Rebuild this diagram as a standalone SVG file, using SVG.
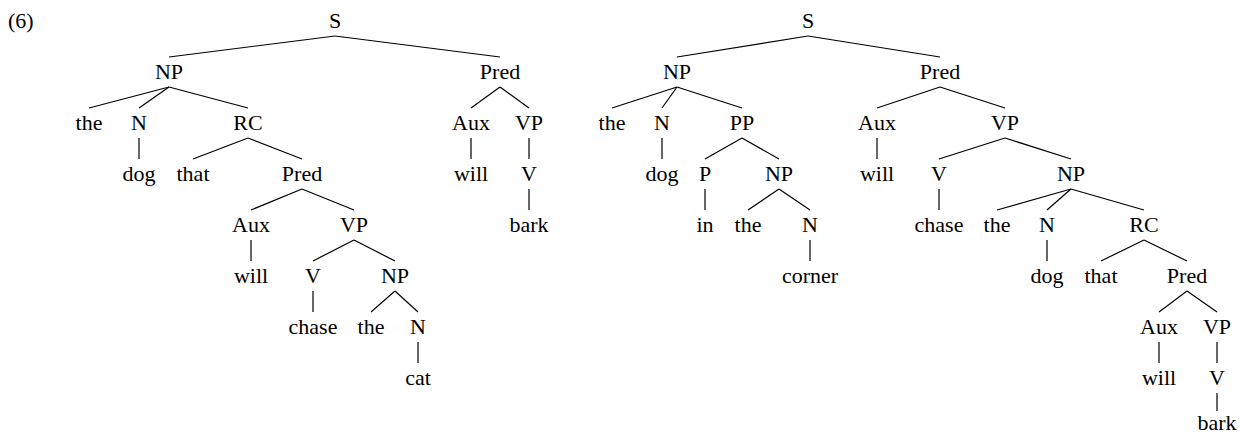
<svg xmlns="http://www.w3.org/2000/svg" width="1240" height="436" viewBox="0 0 1240 436">
<style>
text{font-family:"Liberation Serif","Times New Roman","DejaVu Serif",serif;font-size:22px;fill:#000;text-anchor:middle}
.lbl{text-anchor:start}
#edges line{stroke:#000;stroke-width:1.2}
</style>
<rect width="1240" height="436" fill="#fff"/>
<text class="lbl" x="8" y="28">(6)</text>
<g id="edges">
<line x1="335" y1="36" x2="169" y2="57"/><line x1="335" y1="36" x2="500" y2="57"/>
<line x1="169" y1="87" x2="89" y2="108"/><line x1="169" y1="87" x2="139" y2="108"/><line x1="169" y1="87" x2="248" y2="108"/>
<line x1="139" y1="138" x2="139" y2="159"/>
<line x1="248" y1="138" x2="193" y2="159"/><line x1="248" y1="138" x2="302" y2="159"/>
<line x1="302" y1="189" x2="251" y2="210"/><line x1="302" y1="189" x2="354" y2="210"/>
<line x1="251" y1="240" x2="251" y2="261"/>
<line x1="354" y1="240" x2="313" y2="261"/><line x1="354" y1="240" x2="395" y2="261"/>
<line x1="313" y1="291" x2="313" y2="312"/>
<line x1="395" y1="291" x2="371" y2="312"/><line x1="395" y1="291" x2="418" y2="312"/>
<line x1="418" y1="342" x2="418" y2="363"/>
<line x1="500" y1="87" x2="471" y2="108"/><line x1="500" y1="87" x2="529" y2="108"/>
<line x1="471" y1="138" x2="471" y2="159"/><line x1="529" y1="138" x2="529" y2="159"/>
<line x1="529" y1="189" x2="529" y2="210"/>
<line x1="808" y1="36" x2="677" y2="57"/><line x1="808" y1="36" x2="940" y2="57"/>
<line x1="677" y1="87" x2="612" y2="108"/><line x1="677" y1="87" x2="662" y2="108"/><line x1="677" y1="87" x2="742" y2="108"/>
<line x1="662" y1="138" x2="662" y2="159"/>
<line x1="742" y1="138" x2="705" y2="159"/><line x1="742" y1="138" x2="779" y2="159"/>
<line x1="705" y1="189" x2="705" y2="210"/>
<line x1="779" y1="189" x2="748" y2="210"/><line x1="779" y1="189" x2="810" y2="210"/>
<line x1="810" y1="240" x2="810" y2="261"/>
<line x1="940" y1="87" x2="877" y2="108"/><line x1="940" y1="87" x2="1005" y2="108"/>
<line x1="877" y1="138" x2="877" y2="159"/>
<line x1="1005" y1="138" x2="939" y2="159"/><line x1="1005" y1="138" x2="1071" y2="159"/>
<line x1="939" y1="189" x2="939" y2="210"/>
<line x1="1071" y1="189" x2="997" y2="210"/><line x1="1071" y1="189" x2="1047" y2="210"/><line x1="1071" y1="189" x2="1144" y2="210"/>
<line x1="1047" y1="240" x2="1047" y2="261"/>
<line x1="1144" y1="240" x2="1101" y2="261"/><line x1="1144" y1="240" x2="1187" y2="261"/>
<line x1="1187" y1="291" x2="1159" y2="312"/><line x1="1187" y1="291" x2="1217" y2="312"/>
<line x1="1159" y1="342" x2="1159" y2="363"/><line x1="1217" y1="342" x2="1217" y2="363"/>
<line x1="1217" y1="393" x2="1217" y2="411"/>
</g>
<g id="t1-S"><text x="335" y="28">S</text></g>
<g id="t1-NP"><text x="169" y="79">NP</text></g>
<g id="t1-Pred"><text x="500" y="79">Pred</text></g>
<g id="t1-the"><text x="89" y="130">the</text></g>
<g id="t1-N"><text x="139" y="130">N</text></g>
<g id="t1-RC"><text x="248" y="130">RC</text></g>
<g id="t1-dog"><text x="139" y="181">dog</text></g>
<g id="t1-that"><text x="193" y="181">that</text></g>
<g id="t1-Pred2"><text x="302" y="181">Pred</text></g>
<g id="t1-Aux2"><text x="251" y="232">Aux</text></g>
<g id="t1-VP2"><text x="354" y="232">VP</text></g>
<g id="t1-will2"><text x="251" y="283">will</text></g>
<g id="t1-V2"><text x="313" y="283">V</text></g>
<g id="t1-NP2"><text x="395" y="283">NP</text></g>
<g id="t1-chase"><text x="313" y="334">chase</text></g>
<g id="t1-the2"><text x="371" y="334">the</text></g>
<g id="t1-N2"><text x="418" y="334">N</text></g>
<g id="t1-cat"><text x="418" y="385">cat</text></g>
<g id="t1-Aux"><text x="471" y="130">Aux</text></g>
<g id="t1-VP"><text x="529" y="130">VP</text></g>
<g id="t1-will"><text x="471" y="181">will</text></g>
<g id="t1-V"><text x="529" y="181">V</text></g>
<g id="t1-bark"><text x="529" y="232">bark</text></g>
<g id="t2-S"><text x="808" y="28">S</text></g>
<g id="t2-NP"><text x="677" y="79">NP</text></g>
<g id="t2-Pred"><text x="940" y="79">Pred</text></g>
<g id="t2-the"><text x="612" y="130">the</text></g>
<g id="t2-N"><text x="662" y="130">N</text></g>
<g id="t2-PP"><text x="742" y="130">PP</text></g>
<g id="t2-dog"><text x="662" y="181">dog</text></g>
<g id="t2-P"><text x="705" y="181">P</text></g>
<g id="t2-NP2"><text x="779" y="181">NP</text></g>
<g id="t2-in"><text x="705" y="232">in</text></g>
<g id="t2-the2"><text x="748" y="232">the</text></g>
<g id="t2-N2"><text x="810" y="232">N</text></g>
<g id="t2-corner"><text x="810" y="283">corner</text></g>
<g id="t2-Aux"><text x="877" y="130">Aux</text></g>
<g id="t2-VP"><text x="1005" y="130">VP</text></g>
<g id="t2-will"><text x="877" y="181">will</text></g>
<g id="t2-V"><text x="939" y="181">V</text></g>
<g id="t2-NP3"><text x="1071" y="181">NP</text></g>
<g id="t2-chase"><text x="939" y="232">chase</text></g>
<g id="t2-the3"><text x="997" y="232">the</text></g>
<g id="t2-N3"><text x="1047" y="232">N</text></g>
<g id="t2-RC"><text x="1144" y="232">RC</text></g>
<g id="t2-dog2"><text x="1047" y="283">dog</text></g>
<g id="t2-that"><text x="1101" y="283">that</text></g>
<g id="t2-Pred2"><text x="1187" y="283">Pred</text></g>
<g id="t2-Aux2"><text x="1159" y="334">Aux</text></g>
<g id="t2-VP2"><text x="1217" y="334">VP</text></g>
<g id="t2-will2"><text x="1159" y="385">will</text></g>
<g id="t2-V2"><text x="1217" y="385">V</text></g>
<g id="t2-bark"><text x="1217" y="430">bark</text></g>
</svg>
